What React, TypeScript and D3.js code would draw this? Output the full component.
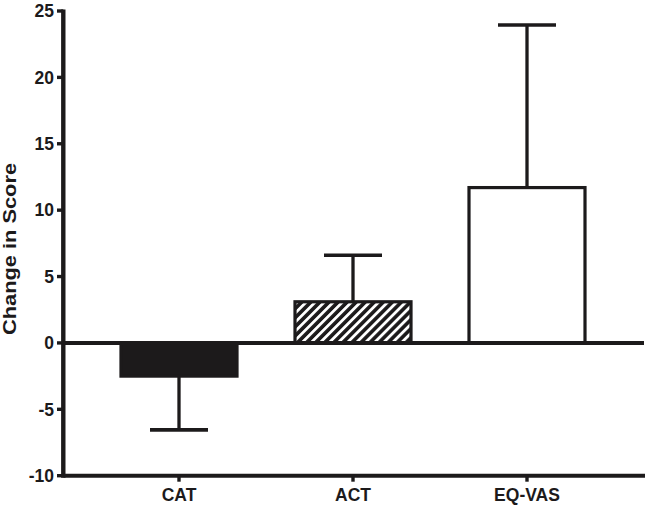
import React from "react";
import * as d3 from "d3";

const categories = ["CAT", "ACT", "EQ-VAS"];
const means = [-2.5, 3.1, 11.7];
const errors = [4.05, 3.5, 12.25];
const fills = ["solid", "hatch", "open"];
const yTicks = [-10, -5, 0, 5, 10, 15, 20, 25];
const yTitle = "Change in Score";

const W = 650;
const H = 506;
const INK = "#1c1a1b";
const FONT = "'Liberation Sans', Arial, Helvetica, sans-serif";

export default function App() {
  const x = d3.scaleBand<string>().domain(categories).range([63, 643]).paddingInner(1 / 3).paddingOuter(1 / 3);
  const y = d3.scaleLinear().domain([-10, 25]).range([475.7, 11]);
  const y0 = y(0);
  const axisX = 63.3;

  return (
    <svg width={W} height={H} style={{ position: "absolute", left: 0, top: 0, background: "#fff" }}>
      <defs>
        <pattern id="hatch" patternUnits="userSpaceOnUse" width={6.4} height={6.4} patternTransform="rotate(45)">
          <rect width={6.4} height={6.4} fill={INK} />
          <rect x={0} y={0} width={2.8} height={6.4} fill="#fff" />
        </pattern>
      </defs>

      {/* bars */}
      {categories.map((c, i) => {
        const v = means[i];
        const bx = x(c)!;
        const bw = x.bandwidth();
        const top = Math.min(y(v), y0);
        const h = Math.abs(y(v) - y0);
        const fill = fills[i] === "solid" ? INK : fills[i] === "hatch" ? "url(#hatch)" : "#fff";
        return <rect key={c} x={bx} y={top} width={bw} height={h} fill={fill} stroke={INK} strokeWidth={3.2} />;
      })}

      {/* error bars */}
      {categories.map((c, i) => {
        const v = means[i];
        const e = v >= 0 ? v + errors[i] : v - errors[i];
        const cx = x(c)! + x.bandwidth() / 2;
        const capW = x.bandwidth() / 2;
        return (
          <g key={c + "-err"}>
            <line x1={cx} x2={cx} y1={y(v)} y2={y(e)} stroke={INK} strokeWidth={3.3} />
            <line x1={cx - capW / 2} x2={cx + capW / 2} y1={y(e)} y2={y(e)} stroke={INK} strokeWidth={3.6} />
          </g>
        );
      })}

      {/* zero line */}
      <line x1={axisX} x2={644} y1={y0} y2={y0} stroke={INK} strokeWidth={4} />

      {/* y axis */}
      <line x1={axisX} x2={axisX} y1={y(25) - 1.5} y2={y(-10) + 2} stroke={INK} strokeWidth={4.4} />
      {yTicks.map((t) => (
        <g key={t}>
          <line x1={57} x2={axisX} y1={y(t)} y2={y(t)} stroke={INK} strokeWidth={3.4} />
          <text x={54} y={y(t)} dy="0.36em" textAnchor="end" fontFamily={FONT} fontWeight="bold" fontSize={17.5} fill={INK}>
            {t}
          </text>
        </g>
      ))}

      {/* bottom axis */}
      <line x1={axisX} x2={645} y1={y(-10)} y2={y(-10)} stroke={INK} strokeWidth={4} />
      {categories.map((c) => {
        const cx = x(c)! + x.bandwidth() / 2;
        return (
          <g key={c + "-tick"}>
            <line x1={cx} x2={cx} y1={y(-10)} y2={y(-10) + 6} stroke={INK} strokeWidth={3.4} />
            <text x={cx} y={501} textAnchor="middle" fontFamily={FONT} fontWeight="bold" fontSize={17.5} fill={INK}>
              {c}
            </text>
          </g>
        );
      })}

      {/* y title */}
      <text
        transform={`translate(16, ${(163 + 335) / 2}) rotate(-90)`}
        textAnchor="middle"
        fontFamily={FONT}
        fontWeight="bold"
        fontSize={18}
        textLength={172}
        lengthAdjust="spacingAndGlyphs"
        fill={INK}
      >
        {yTitle}
      </text>
    </svg>
  );
}
